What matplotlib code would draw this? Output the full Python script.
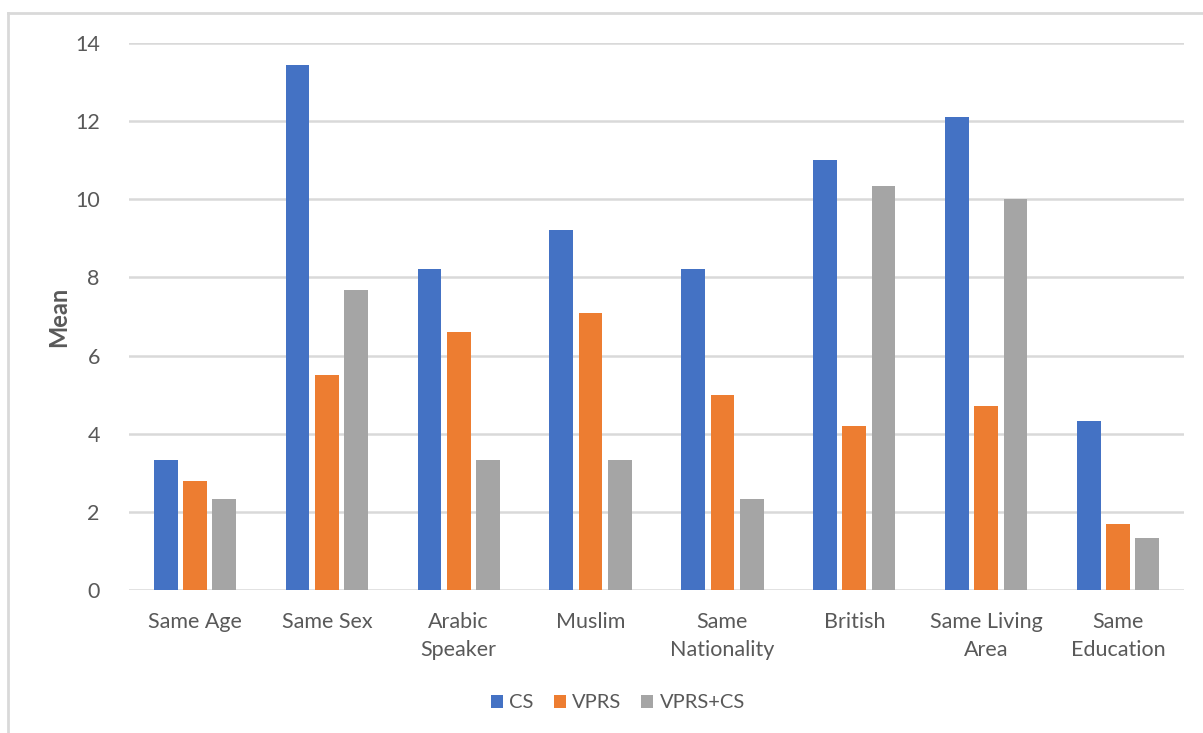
import numpy as np
import matplotlib.pyplot as plt
from matplotlib.lines import Line2D

categories = ["Same Age", "Same Sex", "Arabic\nSpeaker", "Muslim", "Same\nNationality",
              "British", "Same Living\nArea", "Same\nEducation"]
cs = [3.33, 13.43, 8.22, 9.22, 8.22, 11.0, 12.11, 4.33]
vprs = [2.8, 5.5, 6.6, 7.1, 5.0, 4.2, 4.7, 1.7]
vprs_cs = [2.33, 7.67, 3.33, 3.33, 2.33, 10.33, 10.0, 1.33]
yticks = [0, 2, 4, 6, 8, 10, 12, 14]

txt = "#595959"
plt.rcParams['font.family'] = ['Lato', 'DejaVu Sans']

fig = plt.figure(figsize=(12.03, 7.33), dpi=100)
ax = fig.add_axes([129/1203, 1 - 590/733, (1184 - 129)/1203, (590 - 43)/733])

x = np.arange(len(categories))
step = 0.222
w = 0.18
series = [(cs, "CS", "#4472C4"), (vprs, "VPRS", "#ED7D31"), (vprs_cs, "VPRS+CS", "#A5A5A5")]
for i, (vals, name, col) in enumerate(series):
    ax.bar(x + (i - 1)*step, vals, w, color=col, label=name, zorder=3)

ax.set_xlim(-0.5, len(categories) - 0.5)
ax.set_ylim(0, 14)
ax.set_yticks(yticks)
ax.set_xticks(x)
ax.set_xticklabels(categories, fontsize=15.5, color=txt, linespacing=1.5)
ax.tick_params(axis='y', labelsize=15.5, labelcolor=txt, length=0, pad=21)
ax.tick_params(axis='x', length=0, pad=16)
ax.grid(axis='y', color="#D9D9D9", linewidth=1.8, zorder=0)
for s in ax.spines.values():
    s.set_visible(False)
ax.set_ylabel("Mean", fontsize=17, fontweight='bold', color=txt)
ax.yaxis.set_label_coords(-0.056, 0.5)

ax.legend(loc='center', bbox_to_anchor=(618/1203, 1 - 703/733), bbox_transform=fig.transFigure,
          ncol=3, frameon=False, fontsize=14.5, handlelength=0.6, handleheight=0.6,
          handletextpad=0.3, columnspacing=1.0, labelcolor=txt)

# outer chart frame (top and left edges only)
fig.add_artist(Line2D([8/1203, 1], [1 - 13/733, 1 - 13/733], color="#D9D9D9", lw=2,
                      transform=fig.transFigure))
fig.add_artist(Line2D([8/1203, 8/1203], [0, 1 - 13/733], color="#D9D9D9", lw=2,
                      transform=fig.transFigure))

fig.savefig("out.png", dpi=100)
